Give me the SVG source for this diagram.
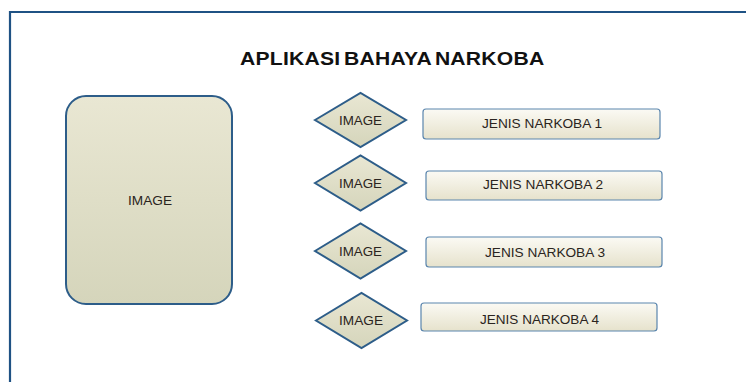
<svg xmlns="http://www.w3.org/2000/svg" width="746" height="382" viewBox="0 0 746 382">
<defs>
<linearGradient id="gShape" x1="0" y1="0" x2="0" y2="1">
<stop offset="0" stop-color="#e9e7d3"/>
<stop offset="1" stop-color="#d5d5bb"/>
</linearGradient>
<linearGradient id="gBtn" x1="0" y1="0" x2="0" y2="1">
<stop offset="0" stop-color="#fbfaf4"/>
<stop offset="1" stop-color="#e6e2cc"/>
</linearGradient>
</defs>
<style>
.shape{fill:url(#gShape);stroke:#2d5d89;stroke-width:2}
.btn{fill:url(#gBtn);stroke:#5a85ad;stroke-width:1.2}
.lbl{font-family:"Liberation Sans",Arial,sans-serif;font-size:13px;fill:#2a2420}
.title{font-family:"Liberation Sans",Arial,sans-serif;font-size:18px;font-weight:bold;fill:#111;word-spacing:-2px;letter-spacing:0.2px}
</style>
<rect x="0" y="0" width="746" height="382" fill="#ffffff"/>
<path d="M10 382 V12 H746" fill="none" stroke="#1f5284" stroke-width="2.2"/>
<text class="title" x="204.6" y="65" transform="matrix(1.173 0 0 1 0 0)">APLIKASI BAHAYA NARKOBA</text>
<g id="main-image">
<rect class="shape" x="66" y="96" width="166" height="208" rx="20" ry="20"/>
<text class="lbl" x="128" y="205" textLength="44" lengthAdjust="spacingAndGlyphs">IMAGE</text>
</g>
<g id="img1">
<polygon class="shape" points="315,120 360.5,93 406,120 360.5,147"/>
<text class="lbl" x="339" y="124.5" textLength="43" lengthAdjust="spacingAndGlyphs">IMAGE</text>
</g>
<g id="img2">
<polygon class="shape" points="315,183 360.5,155.5 406,183 360.5,210.5"/>
<text class="lbl" x="339" y="188" textLength="43" lengthAdjust="spacingAndGlyphs">IMAGE</text>
</g>
<g id="img3">
<polygon class="shape" points="315,251 360.5,223.5 406,251 360.5,278.5"/>
<text class="lbl" x="339" y="256" textLength="43" lengthAdjust="spacingAndGlyphs">IMAGE</text>
</g>
<g id="img4">
<polygon class="shape" points="316,320.5 361.5,293 407,320.5 361.5,348"/>
<text class="lbl" x="339" y="325" textLength="44" lengthAdjust="spacingAndGlyphs">IMAGE</text>
</g>
<g id="btn1">
<rect class="btn" x="423" y="109" width="237" height="30" rx="3"/>
<text class="lbl" x="482" y="128" textLength="120" lengthAdjust="spacingAndGlyphs">JENIS NARKOBA 1</text>
</g>
<g id="btn2">
<rect class="btn" x="426" y="171" width="236" height="29" rx="3"/>
<text class="lbl" x="483" y="189" textLength="120" lengthAdjust="spacingAndGlyphs">JENIS NARKOBA 2</text>
</g>
<g id="btn3">
<rect class="btn" x="426" y="237" width="236" height="30" rx="3"/>
<text class="lbl" x="485" y="257" textLength="120" lengthAdjust="spacingAndGlyphs">JENIS NARKOBA 3</text>
</g>
<g id="btn4">
<rect class="btn" x="421" y="303" width="236" height="28" rx="3"/>
<text class="lbl" x="480" y="324" textLength="119" lengthAdjust="spacingAndGlyphs">JENIS NARKOBA 4</text>
</g>
<g id="connectors"></g>
</svg>
